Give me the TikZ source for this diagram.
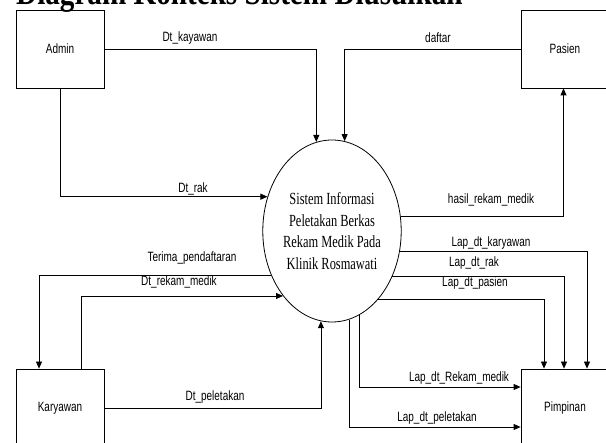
\documentclass[tikz,border=0pt]{standalone}
\usepackage{fontspec}
\usetikzlibrary{shapes.geometric,arrows.meta}
\newfontfamily\lblfont[FakeStretch=0.74]{Liberation Sans}
\newfontfamily\elfont[FakeStretch=0.73]{Liberation Serif}
\newfontfamily\titlefont[FakeStretch=0.81]{Liberation Serif}
\tikzset{
  entity/.style={draw, line width=0.8pt, minimum width=88pt, minimum height=78pt, inner sep=0pt, font=\lblfont\fontsize{13.5}{16}\selectfont},
  proc/.style={draw, ellipse, line width=0.8pt, minimum width=124pt, minimum height=182pt, inner sep=0pt, align=center, font=\elfont\fontsize{17}{21.7}\selectfont},
  flow/.style={line width=0.8pt, -{Triangle[length=7pt,width=6pt]}},
  lbl/.style={inner sep=0pt, font=\lblfont\fontsize{13.5}{16}\selectfont}
}
\begin{document}
\begin{tikzpicture}[x=1pt,y=-1pt]
\useasboundingbox (0,0) rectangle (606,443);
\clip (0,0) rectangle (606,443);
\fill[white] (0,0) rectangle (606,443);
\node[anchor=base west, inner sep=0pt, font=\titlefont\bfseries\fontsize{36}{40}\selectfont] (title) at (16,5) {Diagram Konteks Sistem Diusulkan};
\node[entity] (admin) at (60,49) {Admin};
\node[entity] (pasien) at (565,49) {Pasien};
\node[entity] (kar) at (60,408) {Karyawan};
\node[entity] (pim) at (565,408) {Pimpinan};
\node[proc] (el) at (332,231) {Sistem Informasi\\Peletakan Berkas\\Rekam Medik Pada\\Klinik Rosmawati};
% flows
\draw[flow] (admin.east) -| (el.100.3);
\draw[flow] (pasien.west) -| (el.82.3);
\draw[flow] (admin.south) |- (el.152);
\draw[flow] (el.12) -| ([xshift=-1.5pt]pasien.south);
\draw[flow] (el.-17.4) -| ([xshift=22pt]pim.north);
\draw[flow] (el.-37.4) -| ([xshift=-1pt]pim.north);
\draw[flow] (el.-56.3) -| ([xshift=-21pt]pim.north);
\draw[flow] (el.-72.9) |- ([yshift=21pt]pim.west);
\draw[flow] (el.-79.7) |- ([yshift=-19pt]pim.west);
\draw[flow] (el.-144.3) -| ([xshift=-21pt]kar.north);
\draw[flow] ([xshift=21pt]kar.north) |- (el.-127.8);
\draw[flow] (kar.east) -| (el.-97.7);
% labels
\node[lbl] (l1) at (190,38) {Dt\_kayawan};
\node[lbl] (l2) at (438,38) {daftar};
\node[lbl] (l3) at (193,189) {Dt\_rak};
\node[lbl] (l4) at (491,200) {hasil\_rekam\_medik};
\node[lbl] (l5) at (491,243) {Lap\_dt\_karyawan};
\node[lbl] (l6) at (474,263) {Lap\_dt\_rak};
\node[lbl] (l7) at (475,283) {Lap\_dt\_pasien};
\node[lbl] (l8) at (192,258) {Terima\_pendaftaran};
\node[lbl] (l9) at (179,282) {Dt\_rekam\_medik};
\node[lbl] (l10) at (459,378) {Lap\_dt\_Rekam\_medik};
\node[lbl] (l11) at (437,418) {Lap\_dt\_peletakan};
\node[lbl] (l12) at (215,397) {Dt\_peletakan};
\end{tikzpicture}
\end{document}
